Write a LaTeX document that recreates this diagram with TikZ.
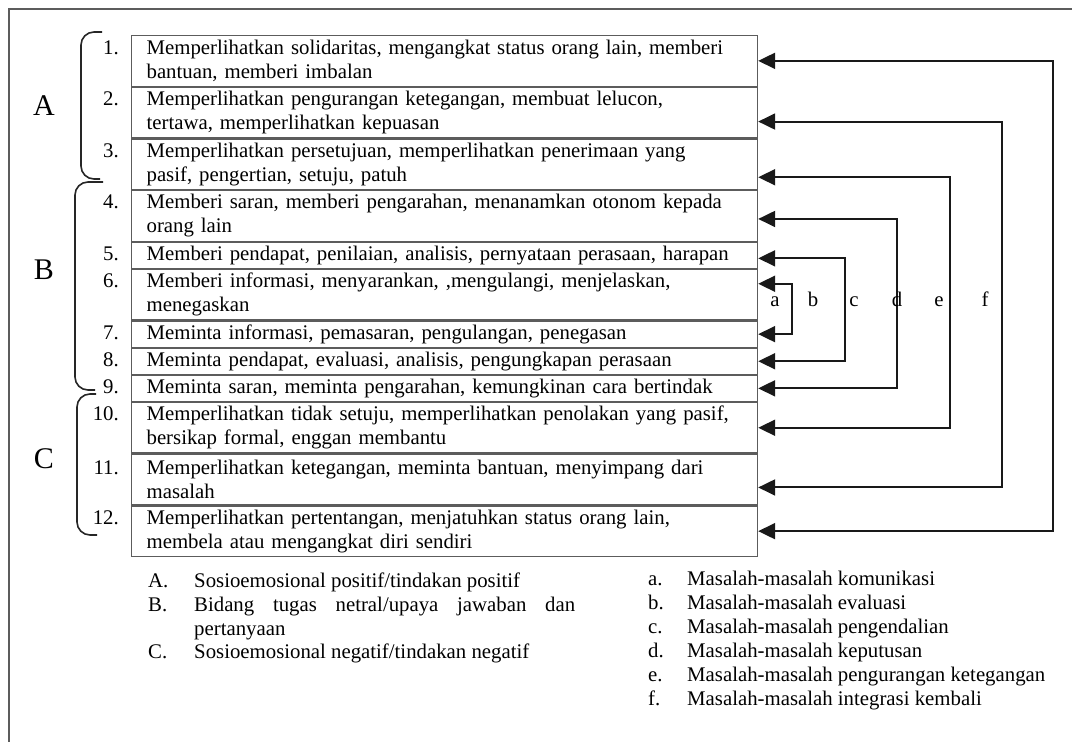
\documentclass[tikz,border=0pt]{standalone}
\usepackage{fontspec}
\setmainfont{Liberation Serif}
\usepackage{tikz}
\usetikzlibrary{arrows.meta, positioning}
\usepackage{xcolor}
\definecolor{boxgray}{HTML}{5C5C5C}
\tikzstyle{row}  = [rectangle, draw=boxgray, line width=1.2pt, text width=596pt, inner xsep=15pt, inner ysep=2pt, minimum height=50.5pt, align=left]
\tikzstyle{srow} = [row, minimum height=25.9pt]
\tikzstyle{num}  = [inner sep=0pt]
\tikzstyle{grp}  = [inner sep=0pt, font=\fontsize{30}{36}\selectfont]
\tikzstyle{leg}  = [inner sep=0pt, anchor=base west]
\tikzstyle{brk}  = [line width=1.6pt, draw=black!85, rounded corners=13pt]
\tikzstyle{link} = [line width=2pt, draw=black!90, {Triangle[length=17pt,width=16pt]}-{Triangle[length=17pt,width=16pt]}]

\begin{document}
\begin{tikzpicture}[x=1pt, y=-1pt, every node/.style={font=\fontsize{20.8}{24}\selectfont}]

  \useasboundingbox (0,0) rectangle (1072,742);
  \draw[draw=boxgray, line width=1.3pt] (1072,9) -- (9,9) -- (9,742);

  % Rows 1-12
  \node[row, anchor=north west] (r1) at (131,35) {Memperlihatkan solidaritas, mengangkat status orang lain, memberi\\bantuan, memberi imbalan};
  \node[row, below=0pt of r1] (r2) {Memperlihatkan pengurangan ketegangan, membuat lelucon,\\tertawa, memperlihatkan kepuasan};
  \node[row, below=0pt of r2] (r3) {Memperlihatkan persetujuan, memperlihatkan penerimaan yang\\pasif, pengertian, setuju, patuh};
  \node[row, below=0pt of r3] (r4) {Memberi saran, memberi pengarahan, menanamkan otonom kepada\\orang lain};
  \node[srow, below=0pt of r4] (r5) {Memberi pendapat, penilaian, analisis, pernyataan perasaan, harapan};
  \node[row, below=0pt of r5] (r6) {Memberi informasi, menyarankan, ,mengulangi, menjelaskan,\\menegaskan};
  \node[srow, below=0pt of r6] (r7) {Meminta informasi, pemasaran, pengulangan, penegasan};
  \node[srow, below=0pt of r7] (r8) {Meminta pendapat, evaluasi, analisis, pengungkapan perasaan};
  \node[srow, below=0pt of r8] (r9) {Meminta saran, meminta pengarahan, kemungkinan cara bertindak};
  \node[row, below=0pt of r9] (r10) {Memperlihatkan tidak setuju, memperlihatkan penolakan yang pasif,\\bersikap formal, enggan membantu};
  \node[row, below=0pt of r10] (r11) {Memperlihatkan ketegangan, meminta bantuan, menyimpang dari\\masalah};
  \node[row, below=0pt of r11] (r12) {Memperlihatkan pertentangan, menjatuhkan status orang lain,\\membela atau mengangkat diri sendiri};

  \foreach \i in {1,...,12}
    \node[num, left=12pt of r\i.base west, anchor=base east] (n\i) {\i.};

  % Groups
  \node[grp] (gA) at (44,106) {A};
  \node[grp] (gB) at (44,270) {B};
  \node[grp] (gC) at (44,459) {C};
  \draw[brk] (102,32) -- (81,32) -- (81,179) -- (100,179);
  \draw[brk] (103,182) -- (75,182) -- (75,390) -- (95,390);
  \draw[brk] (96,394) -- (77,394) -- (77,535) -- (97,535);

  % Arrows
  \draw[link] (r1.east) -- ++(295pt,0) |- (r12.east);
  \draw[link] ([yshift=-9pt]r2.east) -- ++(244pt,0) |- ([yshift=-8pt]r11.east);
  \draw[link] ([yshift=-13pt]r3.east) -- ++(192pt,0) |- (r10.east);
  \draw[link] ([yshift=-3pt]r4.east) -- ++(139pt,0) |- (r9.east);
  \draw[link] ([yshift=-3pt]r5.east) -- ++(87pt,0) |- (r8.east);
  \draw[link] ([yshift=11pt]r6.east) -- ++(34pt,0) |- (r7.east);

  \foreach \l/\x in {a/775, b/813, c/854, d/897, e/939, f/985}
    \node[inner sep=0pt, anchor=base] (k\l) at (\x,306) {\l};

  % Legend
  \node[leg] (lA) at (148,587) {A.};
  \node[leg] (tA) at (194,587) {Sosioemosional positif/tindakan positif};
  \node[leg] (lB) at (148,611) {B.};
  \node[leg, text width=381pt, align=justify] (tB) at (194,611) {Bidang tugas netral/upaya jawaban dan \mbox{pertanyaan}};
  \node[leg] (lC) at (148,658) {C.};
  \node[leg] (tC) at (194,658) {Sosioemosional negatif/tindakan negatif};

  \foreach \l/\t [count=\k from 0] in {a/komunikasi, b/evaluasi, c/pengendalian, d/keputusan, e/pengurangan ketegangan, f/integrasi kembali} {
    \node[leg] (l\l) at (648,585+24*\k) {\l.};
    \node[leg] (t\l) at (687,585+24*\k) {Masalah-masalah \t};
  }

\end{tikzpicture}
\end{document}
